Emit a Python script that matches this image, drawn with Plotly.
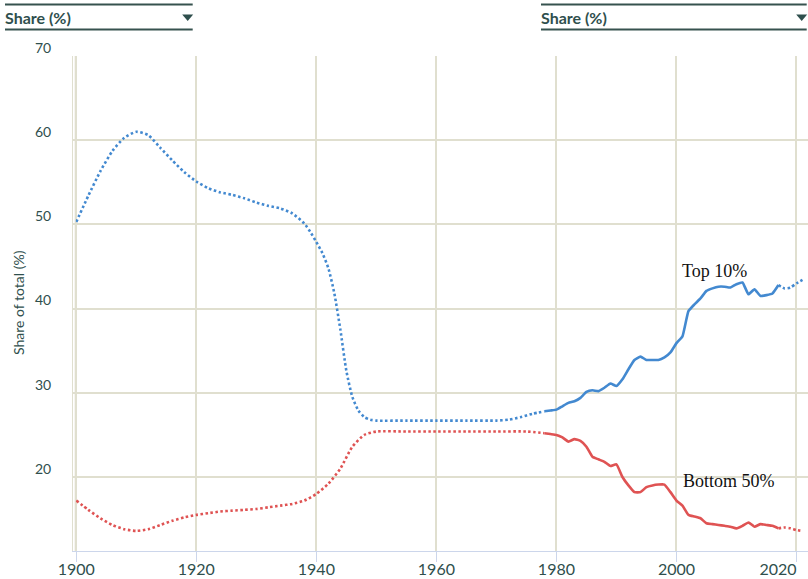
import plotly.graph_objects as go

# ---------------- data ----------------
top10_early_years = [1900, 1902, 1904, 1906, 1908, 1910, 1912, 1914, 1916, 1918, 1920, 1922, 1924, 1926, 1928,
                     1930, 1932, 1934, 1936, 1938, 1939, 1940, 1941, 1942, 1943, 1944, 1945, 1946, 1947,
                     1948, 1949, 1950, 1955, 1960, 1965, 1970, 1972, 1974, 1976, 1978]
top10_early = [50.3, 53.4, 56.3, 58.7, 60.3, 61.0, 60.6, 59.1, 57.6, 56.2, 55.1, 54.3, 53.8, 53.5, 53.1,
               52.6, 52.2, 51.9, 51.3, 50.1, 49.1, 47.9, 46.6, 44.8, 41.8, 37.5, 32.6, 29.5, 27.9,
               27.1, 26.8, 26.7, 26.7, 26.7, 26.7, 26.7, 26.8, 27.1, 27.5, 27.8]

top10_years = list(range(1978, 2018))
top10 = [27.8, 27.9, 28.0, 28.4, 28.8, 29.0, 29.4, 30.1, 30.3, 30.2,
         30.6, 31.1, 30.8, 31.6, 32.8, 33.9, 34.3, 33.9, 33.9, 33.9,
         34.2, 34.8, 35.9, 36.7, 39.7, 40.5, 41.2, 42.1, 42.4, 42.6,
         42.6, 42.5, 42.9, 43.1, 41.7, 42.3, 41.5, 41.6, 41.8, 42.8]

top10_late_years = [2017, 2018, 2019, 2020, 2021]
top10_late = [42.8, 42.4, 42.5, 43.0, 43.4]

bottom50_early_years = [1900, 1902, 1904, 1906, 1908, 1910, 1912, 1914, 1916, 1918, 1920, 1922, 1924, 1926,
                        1928, 1930, 1932, 1934, 1936, 1938, 1940, 1942, 1944, 1946, 1948, 1950, 1955,
                        1960, 1965, 1970, 1975, 1978]
bottom50_early = [17.2, 16.1, 15.1, 14.3, 13.8, 13.6, 13.8, 14.3, 14.8, 15.2, 15.5, 15.7, 15.9, 16.0,
                  16.1, 16.2, 16.4, 16.6, 16.8, 17.2, 18.0, 19.2, 21.0, 23.6, 25.0, 25.4, 25.4,
                  25.4, 25.4, 25.4, 25.4, 25.2]

bottom50_years = list(range(1978, 2018))
bottom50 = [25.2, 25.1, 25.0, 24.7, 24.2, 24.5, 24.3, 23.6, 22.4, 22.1,
            21.8, 21.3, 21.5, 20.0, 19.0, 18.2, 18.2, 18.8, 19.0, 19.1,
            19.1, 18.2, 17.2, 16.6, 15.5, 15.3, 15.1, 14.5, 14.4, 14.3,
            14.2, 14.1, 13.9, 14.2, 14.6, 14.1, 14.4, 14.3, 14.2, 13.9]

bottom50_late_years = [2017, 2018, 2019, 2020, 2021]
bottom50_late = [13.9, 14.0, 13.9, 13.7, 13.6]

x_ticks = [1900, 1920, 1940, 1960, 1980, 2000, 2020]
x_tick_labels = ["1900", "1920", "1940", "1960", "1980", "2000", "2020" + "\u00a0" * 9]
y_ticks = [20, 30, 40, 50, 60, 70]
y_tick_labels = ["20", "30", "40", "50", "60", "70"]

series_labels = [("Top 10%", 2006.3, 44.5), ("Bottom 50%", 2008.8, 19.5)]
header_text = "Share (%)"

# ---------------- style ----------------
BLUE = "#4389d0"
RED = "#df5353"
TEXT = "#2f4f4d"
GRID = "#e0dfcf"
W, H = 808, 579
ML, MR, MT, MB = 73, 0, 56, 28
PW, PH = W - ML - MR, H - MT - MB
DOT = "2.5px,2.5px"


def px(x):
    return (x - ML) / PW


def py(y):
    return (H - MB - y) / PH


fig = go.Figure()


def add(xs, ys, color, dotted):
    fig.add_trace(go.Scatter(
        x=xs, y=ys, mode="lines",
        line=dict(color=color, width=2.6, dash=DOT if dotted else "solid",
                  shape="spline", smoothing=0.6 if dotted else 0.4),
        hoverinfo="skip", showlegend=False, cliponaxis=False))


add(top10_early_years, top10_early, BLUE, True)
add(top10_years, top10, BLUE, False)
add(top10_late_years, top10_late, BLUE, True)
add(bottom50_early_years, bottom50_early, RED, True)
add(bottom50_years, bottom50, RED, False)
add(bottom50_late_years, bottom50_late, RED, True)

annotations = []
for txt, xx, yy in series_labels:
    annotations.append(dict(x=xx, y=yy, xref="x", yref="y", text=txt, showarrow=False,
                            font=dict(family="Liberation Serif", size=18, color="#111111"),
                            xanchor="center", yanchor="middle"))

# y-axis title
annotations.append(dict(x=px(18), y=py(303), xref="paper", yref="paper", text="Share of total (%)",
                        showarrow=False, textangle=-90, xanchor="center", yanchor="middle",
                        font=dict(family="Lato", size=14, color=TEXT)))

shapes = []
for (x0, x1) in [(5, 192.7), (541, 806.7)]:
    annotations.append(dict(x=px(x0), y=py(18), xref="paper", yref="paper", text="<b>%s</b>" % header_text,
                            showarrow=False, xanchor="left", yanchor="middle", xshift=-2,
                            font=dict(family="Lato", size=16, color=TEXT)))
    shapes.append(dict(type="line", xref="paper", yref="paper", x0=px(x0), x1=px(x1), y0=py(4.5), y1=py(4.5),
                       line=dict(color="#36524f", width=2)))
    shapes.append(dict(type="line", xref="paper", yref="paper", x0=px(x0), x1=px(x1), y0=py(29.5), y1=py(29.5),
                       line=dict(color="#36524f", width=2)))
    tx = x1 - 5
    shapes.append(dict(type="path", xref="paper", yref="paper",
                       path="M %f,%f L %f,%f L %f,%f Z" % (px(tx - 5.5), py(14.5), px(tx + 5.5), py(14.5),
                                                          px(tx), py(21)),
                       fillcolor="#2f4f4d", line=dict(width=0)))

# second thin line on the left edge
shapes.append(dict(type="line", xref="paper", yref="paper", x0=px(75.2), x1=px(75.2), y0=0, y1=1,
                   line=dict(color=GRID, width=1)))

fig.update_layout(
    width=W, height=H,
    margin=dict(l=ML, r=MR, t=MT, b=MB, pad=0, autoexpand=False),
    paper_bgcolor="white", plot_bgcolor="white",
    font=dict(family="Lato", color=TEXT),
    annotations=annotations, shapes=shapes,
    xaxis=dict(range=[1899.45, 2021.92], tickvals=x_ticks, ticktext=x_tick_labels,
               automargin=False, ticklabeloverflow="allow",
               showgrid=True, gridcolor=GRID, gridwidth=1.5, zeroline=False,
               showline=True, linecolor="#ccd6eb", linewidth=1,
               ticks="outside", ticklen=10, tickcolor="#ccd6eb", tickwidth=1,
               ticklabelstandoff=-6,
               tickfont=dict(family="Lato", size=16, color=TEXT)),
    yaxis=dict(range=[11.21, 70], tickvals=y_ticks, ticktext=y_tick_labels,
               automargin=False, ticklabeloverflow="allow",
               showgrid=True, gridcolor=GRID, gridwidth=1.5, zeroline=False,
               showline=True, linecolor=GRID, linewidth=1,
               ticks="", ticklabelstandoff=18, ticklabelshift=-8,
               tickfont=dict(family="Lato", size=14, color=TEXT)),
)

fig.write_html("out.html", config={"displayModeBar": False},
               post_script="document.body.style.margin='0';document.body.style.padding='0';")
